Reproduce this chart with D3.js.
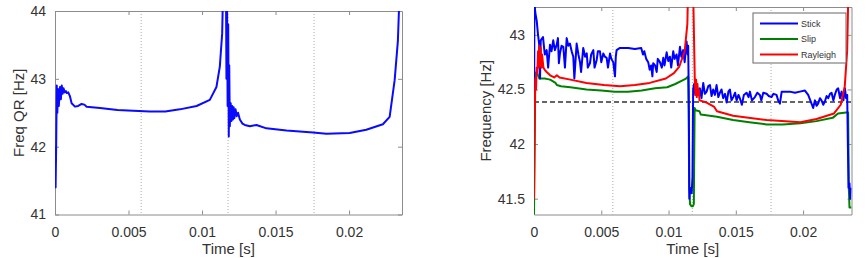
<!DOCTYPE html>
<html>
<head>
    <title></title>
    <meta charset="utf-8" />
    <style>
        body { margin: 0; background: #fff; }
        svg { display: block; font-family: "Liberation Sans", Arial, sans-serif; }
    </style>
    <script src="https://d3js.org/d3.v7.min.js"></script>
</head>
<body>

<svg id="svg"></svg>

<script>

// x ticks shared by both panels
let timeTicks = [0, 0.005, 0.01, 0.015, 0.02];
let timeTickLabels = ["0", "0.005", "0.01", "0.015", "0.02"];
// dotted markers (half periods)
let markT = [0.00586, 0.01177, 0.01762];

// left panel: Freq QR  [time s, freq Hz]
let qrTicks = [41, 42, 43, 44];
let qrData = [
    [0, 42.0], [0.00004, 41.4], [0.00008, 42.0], [0.00012, 42.9], [0.00016, 42.5], [0.0002, 42.85],
    [0.00026, 42.6], [0.00034, 42.88], [0.0004, 42.7], [0.00046, 42.9], [0.00052, 42.78], [0.00058, 42.86],
    [0.00066, 42.8], [0.00074, 42.82], [0.0008, 42.79], [0.0009, 42.8], [0.00102, 42.74], [0.00113, 42.64],
    [0.00136, 42.59], [0.00158, 42.6], [0.00181, 42.63], [0.002, 42.62], [0.00215, 42.59], [0.00306, 42.57],
    [0.00425, 42.54], [0.00532, 42.53], [0.00645, 42.52], [0.0075, 42.52], [0.00849, 42.55], [0.00963, 42.6],
    [0.01053, 42.69], [0.01098, 42.88], [0.01121, 43.18], [0.01137, 43.67], [0.01143, 44.3], [0.01163, 44.3],
    [0.01166, 43.0], [0.0117, 44.2], [0.01174, 42.6], [0.01178, 43.8], [0.01182, 42.15], [0.01185, 43.2],
    [0.01189, 42.3], [0.01195, 42.64], [0.012, 42.38], [0.01205, 42.6], [0.0121, 42.4], [0.01215, 42.58],
    [0.0122, 42.42], [0.01228, 42.55], [0.01236, 42.45], [0.01245, 42.5], [0.01257, 42.4], [0.01275, 42.34],
    [0.01291, 42.32], [0.01325, 42.3], [0.0137, 42.32], [0.01438, 42.27], [0.01574, 42.24], [0.01755, 42.21],
    [0.01846, 42.19], [0.02004, 42.2], [0.02117, 42.25], [0.0223, 42.33], [0.02276, 42.44], [0.0231, 42.98],
    [0.02332, 43.56], [0.02344, 44.3]
];

// right panel: Stick / Slip / Rayleigh
let freqTicks = [41.5, 42, 42.5, 43];
let freqTickLabels = ["41.5", "42", "42.5", "43"];
let refFreq = 42.385;
let seriesNames = ["Stick", "Slip", "Rayleigh"];
let seriesColors = ["#0000ff", "#008000", "#ff0000"];

let stickData = [
    [0, 41.8], [0.00003, 43.3], [0.0001, 43.2], [0.0002, 43.13], [0.0003, 43.0], [0.00038, 42.92],
    [0.00045, 42.6], [0.0005, 42.95], [0.00067, 42.98], [0.0008, 42.82], [0.00094, 42.86], [0.00105, 42.7],
    [0.00119, 42.91], [0.0013, 42.85], [0.00143, 42.95], [0.00155, 42.86], [0.00169, 42.91], [0.00178, 42.97],
    [0.00185, 42.74], [0.00193, 42.83], [0.00205, 42.9], [0.00218, 42.89], [0.0023, 42.7], [0.00243, 42.97],
    [0.00255, 42.9], [0.00267, 42.92], [0.0028, 42.85], [0.00292, 42.8], [0.003, 42.6], [0.00317, 42.92],
    [0.0033, 42.82], [0.00342, 42.75], [0.0035, 42.66], [0.00366, 42.88], [0.0038, 42.8], [0.00392, 42.83],
    [0.004, 42.7], [0.00416, 42.74], [0.00425, 42.82], [0.00441, 42.86], [0.0045, 42.7], [0.00466, 42.77],
    [0.00475, 42.85], [0.0049, 42.85], [0.005, 42.75], [0.00515, 42.83], [0.00527, 42.8], [0.0054, 42.79],
    [0.0055, 42.7], [0.00565, 42.83], [0.00575, 42.78], [0.00589, 42.75], [0.00602, 42.62], [0.00608, 42.8],
    [0.00614, 42.86], [0.00639, 42.88], [0.007, 42.88], [0.0075, 42.87], [0.00797, 42.88], [0.0081, 42.82],
    [0.0082, 42.85], [0.00834, 42.78], [0.00849, 42.75], [0.0086, 42.68], [0.00871, 42.72], [0.0088, 42.62],
    [0.00886, 42.74], [0.009, 42.72], [0.00912, 42.66], [0.0092, 42.78], [0.00936, 42.75], [0.0095, 42.7],
    [0.00961, 42.79], [0.0097, 42.72], [0.00986, 42.84], [0.00998, 42.76], [0.0101, 42.8], [0.0102, 42.7],
    [0.01035, 42.85], [0.01045, 42.78], [0.0106, 42.82], [0.0107, 42.72], [0.01085, 42.89], [0.01095, 42.8],
    [0.01109, 42.86], [0.0112, 42.75], [0.01134, 42.94], [0.01142, 42.82], [0.01146, 42.9], [0.0115, 42.5],
    [0.01155, 41.5], [0.0116, 41.6], [0.01172, 41.55], [0.01178, 41.7], [0.01183, 42.5], [0.0119, 42.55],
    [0.012, 42.45], [0.01209, 42.54], [0.0122, 42.48], [0.01233, 42.51], [0.01245, 42.42], [0.01258, 42.56],
    [0.0127, 42.46], [0.01283, 42.48], [0.01295, 42.53], [0.01308, 42.54], [0.0132, 42.44], [0.01332, 42.5],
    [0.01345, 42.45], [0.01357, 42.54], [0.0137, 42.43], [0.01382, 42.47], [0.01394, 42.5], [0.01406, 42.42],
    [0.0142, 42.46], [0.01432, 42.38], [0.01445, 42.48], [0.01456, 42.5], [0.01468, 42.4], [0.01481, 42.43],
    [0.01495, 42.47], [0.01506, 42.4], [0.0152, 42.45], [0.0153, 42.42], [0.01545, 42.36], [0.0156, 42.45],
    [0.0158, 42.47], [0.01595, 42.43], [0.01605, 42.48], [0.0162, 42.4], [0.01642, 42.43], [0.0166, 42.47],
    [0.01679, 42.45], [0.0169, 42.4], [0.01704, 42.47], [0.01729, 42.46], [0.01745, 42.44], [0.01766, 42.43],
    [0.0178, 42.46], [0.01803, 42.45], [0.01815, 42.4], [0.01828, 42.37], [0.01841, 42.48], [0.0187, 42.48],
    [0.01902, 42.48], [0.0194, 42.47], [0.01976, 42.48], [0.02014, 42.49], [0.02038, 42.45], [0.02063, 42.37],
    [0.02075, 42.33], [0.02088, 42.4], [0.021, 42.35], [0.02112, 42.37], [0.02125, 42.42], [0.02137, 42.4],
    [0.0215, 42.36], [0.02162, 42.39], [0.02175, 42.44], [0.02187, 42.42], [0.022, 42.46], [0.02212, 42.47],
    [0.02225, 42.4], [0.02236, 42.45], [0.0225, 42.5], [0.02261, 42.51], [0.02275, 42.42], [0.02286, 42.48],
    [0.023, 42.4], [0.02311, 42.51], [0.0232, 42.42], [0.02328, 42.45], [0.02333, 42.0], [0.02338, 41.6],
    [0.02345, 41.64], [0.0235, 41.5], [0.02355, 41.6]
];

let slipData = [
    [0, 41.35], [0.00005, 42.0], [0.0001, 42.65], [0.0002, 42.66], [0.0004, 42.6], [0.0008, 42.6],
    [0.0012, 42.59], [0.0016, 42.56], [0.0017, 42.54], [0.002, 42.53], [0.0027, 42.52], [0.0039, 42.5],
    [0.005, 42.49], [0.006, 42.48], [0.007, 42.48], [0.008, 42.49], [0.009, 42.51], [0.0099, 42.52],
    [0.0105, 42.55], [0.011, 42.58], [0.0113, 42.6], [0.01146, 42.62], [0.0115, 42.3], [0.01153, 41.6],
    [0.0116, 41.45], [0.0117, 41.43], [0.0118, 41.43], [0.01188, 41.45], [0.01194, 42.33], [0.012, 42.31],
    [0.0123, 42.3], [0.0124, 42.27], [0.0136, 42.25], [0.0148, 42.22], [0.016, 42.2], [0.0173, 42.18],
    [0.0185, 42.18], [0.0198, 42.19], [0.021, 42.21], [0.0222, 42.24], [0.0226, 42.28], [0.0232, 42.29],
    [0.02335, 42.29], [0.0234, 41.6], [0.02345, 41.42], [0.0236, 41.42]
];

let rayleighData = [
    [0, 41.5], [0.00005, 42.3], [0.0001, 42.6], [0.00015, 42.5], [0.0002, 42.7], [0.00025, 42.65],
    [0.0003, 42.85], [0.00035, 42.7], [0.0004, 42.9], [0.00045, 42.72], [0.0005, 42.88], [0.00055, 42.7],
    [0.0006, 42.82], [0.0007, 42.7], [0.0008, 42.68], [0.00094, 42.66], [0.0012, 42.63], [0.0015, 42.61],
    [0.0017, 42.63], [0.0019, 42.61], [0.0027, 42.59], [0.0039, 42.56], [0.0052, 42.54], [0.0064, 42.53],
    [0.0075, 42.54], [0.0086, 42.56], [0.0098, 42.6], [0.0104, 42.65], [0.0108, 42.71], [0.0112, 42.85],
    [0.0114, 43.1], [0.01148, 43.6], [0.0118, 43.6], [0.01195, 42.6], [0.012, 42.45], [0.01205, 42.59],
    [0.0121, 42.43], [0.01215, 42.55], [0.0122, 42.45], [0.01225, 42.5], [0.0123, 42.4], [0.01283, 42.38],
    [0.0134, 42.34], [0.0136, 42.3], [0.0148, 42.26], [0.0173, 42.22], [0.0198, 42.2], [0.021, 42.23],
    [0.0223, 42.28], [0.0228, 42.36], [0.0231, 42.53], [0.02328, 42.86], [0.0234, 43.6]
];

let W = 866, H = 258;
let svg = d3.select("#svg").attr("width", W).attr("height", H);

let frameColor = "#8c8c8c";
let textColor = "#333";

function drawPanel(p) {
    let x = d3.scaleLinear().domain([0, 0.0236]).range([p.left, p.right]);
    let y = d3.scaleLinear().domain(p.yDomain).range([p.bottom, p.top]);
    let g = svg.append("g");

    let clipId = "clip-" + p.id;
    g.append("clipPath").attr("id", clipId)
        .append("rect")
        .attr("x", p.left).attr("y", p.top)
        .attr("width", p.right - p.left).attr("height", p.bottom - p.top);

    // dotted markers
    g.selectAll(".mark")
        .data(markT)
        .enter()
        .append("line")
        .attr("x1", d => x(d)).attr("x2", d => x(d))
        .attr("y1", p.top).attr("y2", p.bottom)
        .attr("stroke", "#aaa")
        .attr("stroke-width", 1)
        .attr("stroke-dasharray", "1,2");

    // axes with inward ticks, MATLAB style
    let bottomAxis = d3.axisBottom(x).tickValues(timeTicks)
        .tickFormat((d, i) => timeTickLabels[i]).tickSizeInner(-4).tickSizeOuter(0).tickPadding(13);
    let topAxis = d3.axisTop(x).tickValues(timeTicks).tickFormat("").tickSizeInner(-4).tickSizeOuter(0);
    let leftAxis = d3.axisLeft(y).tickValues(p.yTicks)
        .tickFormat((d, i) => p.yLabels[i]).tickSizeInner(-4).tickSizeOuter(0).tickPadding(9);
    let rightAxis = d3.axisRight(y).tickValues(p.yTicks).tickFormat("").tickSizeInner(-4).tickSizeOuter(0);

    let axes = [
        [bottomAxis, "translate(0," + p.bottom + ")"],
        [topAxis, "translate(0," + p.top + ")"],
        [leftAxis, "translate(" + p.left + ",0)"],
        [rightAxis, "translate(" + p.right + ",0)"]
    ];
    axes.forEach(a => {
        let ag = g.append("g").attr("transform", a[1]).call(a[0]);
        ag.select(".domain").attr("stroke", frameColor);
        ag.selectAll(".tick line").attr("stroke", frameColor);
        ag.selectAll("text")
            .attr("fill", textColor)
            .style("font-size", "14px")
            .style("font-family", "Liberation Sans, Arial, sans-serif");
    });

    if (p.refLine !== undefined) {
        g.append("line")
            .attr("x1", p.left).attr("x2", p.right)
            .attr("y1", y(p.refLine)).attr("y2", y(p.refLine))
            .attr("stroke", "#333")
            .attr("stroke-width", 1.6)
            .attr("stroke-dasharray", "5,3");
    }

    let line = d3.line().x(d => x(d[0])).y(d => y(d[1]));
    let lg = g.append("g").attr("clip-path", "url(#" + clipId + ")");
    lg.selectAll(".series")
        .data(p.series)
        .enter()
        .append("path")
        .attr("d", d => line(d.values))
        .attr("fill", "none")
        .attr("stroke", d => d.color)
        .attr("stroke-width", 2)
        .attr("stroke-linejoin", "round");

    // axis titles
    g.append("text")
        .attr("x", (p.left + p.right) / 2)
        .attr("y", 254)
        .attr("text-anchor", "middle")
        .attr("fill", textColor)
        .style("font-size", "15px")
        .text("Time [s]");

    g.append("text")
        .attr("transform", "translate(" + p.yTitleX + "," + (p.top + p.bottom) / 2 + ") rotate(-90)")
        .attr("text-anchor", "middle")
        .attr("fill", textColor)
        .style("font-size", "15px")
        .text(p.yTitle);

    return { x: x, y: y, g: g };
}

drawPanel({
    id: "qr",
    left: 55, right: 402, top: 11, bottom: 214.5,
    yDomain: [41, 44],
    yTicks: qrTicks,
    yLabels: qrTicks.map(String),
    yTitle: "Freq QR [Hz]",
    yTitleX: 24,
    series: [{ values: qrData, color: "#0a0aff" }]
});

let right = drawPanel({
    id: "freq",
    left: 534, right: 851.5, top: 7, bottom: 214.5,
    yDomain: [41.355, 43.255],
    yTicks: freqTicks,
    yLabels: freqTickLabels,
    yTitle: "Frequency [Hz]",
    yTitleX: 491,
    refLine: refFreq,
    series: [
        { values: slipData, color: seriesColors[1] },
        { values: stickData, color: seriesColors[0] },
        { values: rayleighData, color: seriesColors[2] }
    ]
});

// legend
let legend = right.g.append("g").attr("transform", "translate(753,13)");
legend.append("rect")
    .attr("width", 93).attr("height", 50)
    .attr("fill", "#fff")
    .attr("stroke", "#666")
    .attr("stroke-width", 1);

let legendItem = legend.selectAll(".item")
    .data(seriesNames)
    .enter()
    .append("g")
    .attr("transform", (d, i) => "translate(0," + (10.5 + i * 15.5) + ")");

legendItem.append("line")
    .attr("x1", 7).attr("x2", 45)
    .attr("stroke", (d, i) => seriesColors[i])
    .attr("stroke-width", 2);

legendItem.append("text")
    .attr("x", 48).attr("y", 3)
    .attr("fill", textColor)
    .style("font-size", "9px")
    .text(d => d);

</script>

</body>
</html>
